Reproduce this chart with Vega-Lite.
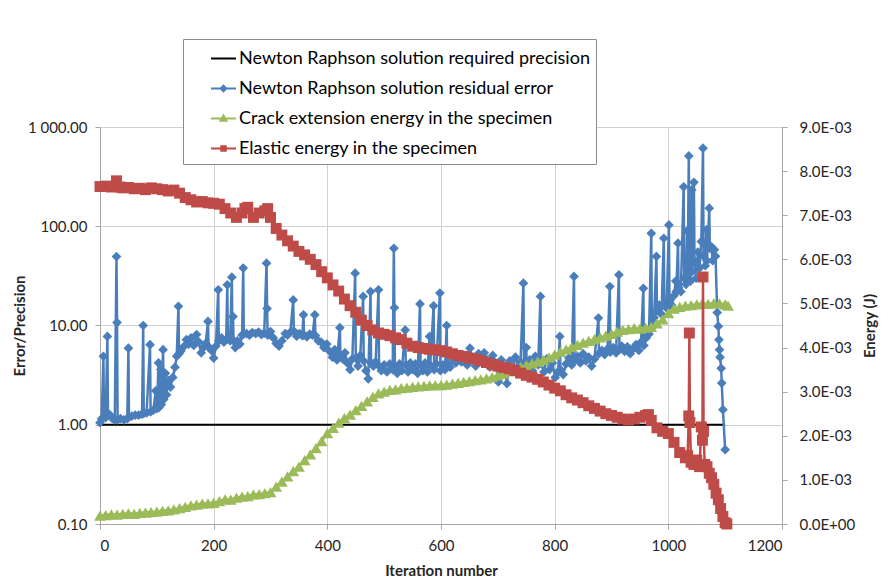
{
  "$schema": "https://vega.github.io/schema/vega-lite/v6.json",
  "width": 682,
  "height": 397,
  "autosize": {"type": "none"},
  "padding": {"left": 100, "top": 127, "right": 111, "bottom": 63},
  "background": "white",
  "datasets": {
    "precision": [{"it": 0, "v": 1}, {"it": 1100, "v": 1}],
    "residual": [
      {"it":0,"v":1.05},{"it":3,"v":1.15},{"it":6,"v":4.9},{"it":7,"v":1.2},{"it":10,"v":1.18},{"it":13,"v":7.75},{"it":14,"v":1.3},{"it":18,"v":1.25},{"it":22,"v":1.15},{"it":26,"v":1.12},{"it":29,"v":49.5},{"it":30,"v":10.7},{"it":31,"v":1.12},{"it":36,"v":1.15},{"it":42,"v":1.12},{"it":48,"v":1.15},{"it":50,"v":5.9},{"it":51,"v":1.2},{"it":56,"v":1.22},{"it":62,"v":1.25},{"it":68,"v":1.25},{"it":74,"v":1.28},{"it":76,"v":10.0},{"it":77,"v":1.3},{"it":82,"v":1.32},{"it":88,"v":6.4},{"it":89,"v":1.35},{"it":94,"v":1.4},{"it":98,"v":2.2},{"it":100,"v":1.45},{"it":103,"v":4.2},{"it":104,"v":1.5},{"it":107,"v":3.6},{"it":108,"v":1.6},{"it":111,"v":5.7},{"it":112,"v":1.8},{"it":115,"v":3.3},{"it":117,"v":2.0},{"it":120,"v":2.8},{"it":124,"v":2.4},{"it":128,"v":3.0},{"it":132,"v":3.8},{"it":135,"v":4.9},{"it":138,"v":15.6},{"it":139,"v":5.2},{"it":142,"v":5.5},{"it":147,"v":6.1},{"it":152,"v":7.2},{"it":156,"v":6.5},{"it":160,"v":7.5},{"it":165,"v":6.3},{"it":170,"v":8.1},{"it":174,"v":6.8},{"it":178,"v":5.3},{"it":182,"v":6.0},{"it":186,"v":6.6},{"it":190,"v":11.0},{"it":191,"v":6.1},{"it":196,"v":5.6},{"it":200,"v":4.7},{"it":204,"v":6.2},{"it":208,"v":22.9},{"it":209,"v":7.0},{"it":214,"v":7.5},{"it":218,"v":6.8},{"it":222,"v":7.2},{"it":224,"v":25.7},{"it":225,"v":7.4},{"it":229,"v":7.0},{"it":232,"v":30.7},{"it":233,"v":7.2},{"it":234,"v":12.3},{"it":235,"v":7.0},{"it":238,"v":6.0},{"it":242,"v":7.0},{"it":246,"v":6.5},{"it":250,"v":8.0},{"it":252,"v":37.9},{"it":253,"v":8.2},{"it":258,"v":8.3},{"it":263,"v":8.0},{"it":268,"v":8.5},{"it":274,"v":8.3},{"it":279,"v":8.6},{"it":284,"v":8.1},{"it":289,"v":8.4},{"it":293,"v":42.5},{"it":294,"v":14.8},{"it":295,"v":8.0},{"it":300,"v":8.7},{"it":305,"v":7.5},{"it":310,"v":6.6},{"it":315,"v":6.2},{"it":320,"v":7.0},{"it":326,"v":8.3},{"it":330,"v":8.0},{"it":335,"v":8.6},{"it":340,"v":18.1},{"it":341,"v":8.8},{"it":346,"v":7.8},{"it":351,"v":8.3},{"it":356,"v":7.9},{"it":358,"v":12.8},{"it":359,"v":8.0},{"it":364,"v":7.7},{"it":369,"v":8.2},{"it":374,"v":8.0},{"it":378,"v":12.8},{"it":379,"v":7.9},{"it":384,"v":7.0},{"it":389,"v":6.8},{"it":394,"v":6.0},{"it":399,"v":6.5},{"it":404,"v":5.5},{"it":409,"v":4.8},{"it":413,"v":5.7},{"it":417,"v":4.5},{"it":422,"v":9.5},{"it":423,"v":5.0},{"it":427,"v":4.6},{"it":431,"v":5.3},{"it":435,"v":4.2},{"it":440,"v":3.6},{"it":444,"v":4.6},{"it":449,"v":33.7},{"it":450,"v":4.7},{"it":454,"v":3.9},{"it":458,"v":5.0},{"it":463,"v":19.6},{"it":464,"v":4.4},{"it":468,"v":3.5},{"it":472,"v":2.9},{"it":476,"v":22.0},{"it":477,"v":4.2},{"it":481,"v":3.9},{"it":485,"v":4.3},{"it":490,"v":22.9},{"it":491,"v":3.9},{"it":495,"v":3.5},{"it":500,"v":4.0},{"it":505,"v":3.4},{"it":510,"v":4.1},{"it":515,"v":3.6},{"it":517,"v":60},{"it":518,"v":15.1},{"it":519,"v":3.7},{"it":523,"v":3.3},{"it":527,"v":4.1},{"it":531,"v":3.5},{"it":537,"v":9.0},{"it":538,"v":4.0},{"it":542,"v":3.4},{"it":546,"v":4.2},{"it":550,"v":3.6},{"it":555,"v":4.1},{"it":559,"v":3.3},{"it":563,"v":16.5},{"it":564,"v":4.0},{"it":568,"v":3.5},{"it":572,"v":4.2},{"it":576,"v":3.4},{"it":580,"v":7.75},{"it":581,"v":4.0},{"it":587,"v":15.8},{"it":588,"v":3.6},{"it":592,"v":4.1},{"it":598,"v":21.2},{"it":599,"v":3.5},{"it":603,"v":4.0},{"it":607,"v":3.6},{"it":610,"v":10.0},{"it":611,"v":4.2},{"it":616,"v":3.8},{"it":621,"v":4.6},{"it":626,"v":4.2},{"it":631,"v":5.0},{"it":636,"v":4.3},{"it":641,"v":4.8},{"it":646,"v":4.0},{"it":651,"v":5.9},{"it":656,"v":4.5},{"it":661,"v":3.9},{"it":666,"v":5.2},{"it":671,"v":4.6},{"it":676,"v":5.3},{"it":681,"v":4.5},{"it":686,"v":3.8},{"it":691,"v":5.0},{"it":696,"v":4.2},{"it":701,"v":2.7},{"it":706,"v":4.5},{"it":711,"v":3.9},{"it":716,"v":2.6},{"it":721,"v":4.4},{"it":726,"v":3.6},{"it":731,"v":4.8},{"it":736,"v":3.9},{"it":740,"v":4.3},{"it":745,"v":26.7},{"it":746,"v":4.0},{"it":750,"v":6.0},{"it":751,"v":3.8},{"it":756,"v":4.5},{"it":761,"v":3.5},{"it":766,"v":4.9},{"it":771,"v":4.0},{"it":775,"v":19.6},{"it":776,"v":4.2},{"it":781,"v":3.4},{"it":786,"v":4.6},{"it":791,"v":3.6},{"it":796,"v":4.2},{"it":801,"v":3.0},{"it":806,"v":3.4},{"it":809,"v":7.75},{"it":810,"v":3.6},{"it":815,"v":3.2},{"it":820,"v":4.1},{"it":825,"v":4.7},{"it":830,"v":4.0},{"it":834,"v":31.2},{"it":835,"v":4.5},{"it":840,"v":4.9},{"it":845,"v":4.2},{"it":850,"v":5.2},{"it":855,"v":4.4},{"it":860,"v":4.8},{"it":865,"v":3.9},{"it":870,"v":4.6},{"it":877,"v":11.9},{"it":878,"v":5.2},{"it":883,"v":5.6},{"it":888,"v":5.1},{"it":893,"v":5.8},{"it":897,"v":24.7},{"it":898,"v":5.4},{"it":903,"v":6.0},{"it":908,"v":5.3},{"it":913,"v":32.4},{"it":914,"v":5.7},{"it":918,"v":6.2},{"it":923,"v":5.5},{"it":928,"v":6.1},{"it":933,"v":5.2},{"it":938,"v":5.8},{"it":943,"v":6.4},{"it":948,"v":5.6},{"it":952,"v":6.8},{"it":956,"v":23.7},{"it":957,"v":6.3},{"it":961,"v":7.5},{"it":966,"v":8.2},{"it":970,"v":85},{"it":971,"v":9.5},{"it":975,"v":12},{"it":979,"v":49.6},{"it":980,"v":14},{"it":984,"v":16},{"it":988,"v":13},{"it":992,"v":75.7},{"it":993,"v":17},{"it":997,"v":15},{"it":1001,"v":103},{"it":1002,"v":18},{"it":1006,"v":16},{"it":1010,"v":20},{"it":1013,"v":28},{"it":1014,"v":22},{"it":1017,"v":67.5},{"it":1018,"v":24},{"it":1022,"v":22},{"it":1027,"v":250},{"it":1028,"v":30},{"it":1031,"v":26},{"it":1033,"v":90},{"it":1034,"v":32},{"it":1036,"v":511},{"it":1037,"v":40},{"it":1039,"v":28},{"it":1041,"v":232},{"it":1042,"v":35},{"it":1045,"v":277},{"it":1046,"v":45},{"it":1049,"v":30},{"it":1052,"v":55},{"it":1055,"v":38},{"it":1058,"v":70},{"it":1061,"v":612},{"it":1062,"v":50},{"it":1065,"v":40},{"it":1067,"v":92},{"it":1068,"v":45},{"it":1072,"v":152},{"it":1073,"v":60},{"it":1076,"v":62},{"it":1078,"v":45},{"it":1081,"v":58},{"it":1083,"v":50},{"it":1086,"v":13.5},{"it":1088,"v":9.8},{"it":1089,"v":7.2},{"it":1090,"v":5.7},{"it":1091,"v":4.8},{"it":1093,"v":3.7},{"it":1094,"v":2.63},{"it":1096,"v":1.42},{"it":1100,"v":0.56}
    ],
    "crack": [
      {"it":0,"e":0.00019},{"it":10,"e":0.0002},{"it":20,"e":0.00022},{"it":30,"e":0.00021},{"it":40,"e":0.00023},{"it":50,"e":0.00024},{"it":60,"e":0.00023},{"it":70,"e":0.00025},{"it":80,"e":0.00026},{"it":90,"e":0.00027},{"it":100,"e":0.00028},{"it":110,"e":0.0003},{"it":120,"e":0.00031},{"it":130,"e":0.00033},{"it":140,"e":0.00036},{"it":150,"e":0.00039},{"it":160,"e":0.00042},{"it":170,"e":0.00044},{"it":180,"e":0.00046},{"it":190,"e":0.00047},{"it":200,"e":0.00048},{"it":210,"e":0.00052},{"it":220,"e":0.00056},{"it":230,"e":0.00055},{"it":240,"e":0.0006},{"it":250,"e":0.00062},{"it":260,"e":0.00063},{"it":270,"e":0.00067},{"it":280,"e":0.00068},{"it":290,"e":0.0007},{"it":300,"e":0.00072},{"it":310,"e":0.00085},{"it":320,"e":0.00096},{"it":330,"e":0.00108},{"it":340,"e":0.0012},{"it":350,"e":0.0013},{"it":360,"e":0.00145},{"it":370,"e":0.00158},{"it":380,"e":0.00172},{"it":390,"e":0.00188},{"it":400,"e":0.00206},{"it":410,"e":0.00218},{"it":420,"e":0.0023},{"it":430,"e":0.0024},{"it":440,"e":0.00248},{"it":450,"e":0.00258},{"it":460,"e":0.00268},{"it":470,"e":0.00278},{"it":480,"e":0.00288},{"it":490,"e":0.00296},{"it":500,"e":0.003},{"it":510,"e":0.00304},{"it":520,"e":0.00305},{"it":530,"e":0.00308},{"it":540,"e":0.00309},{"it":550,"e":0.00311},{"it":560,"e":0.00312},{"it":570,"e":0.00313},{"it":580,"e":0.00314},{"it":590,"e":0.00315},{"it":600,"e":0.00315},{"it":610,"e":0.00316},{"it":620,"e":0.00318},{"it":630,"e":0.0032},{"it":640,"e":0.00322},{"it":650,"e":0.00324},{"it":660,"e":0.00326},{"it":670,"e":0.00328},{"it":680,"e":0.0033},{"it":690,"e":0.00333},{"it":700,"e":0.00337},{"it":710,"e":0.00341},{"it":720,"e":0.00346},{"it":730,"e":0.00351},{"it":740,"e":0.00356},{"it":750,"e":0.0036},{"it":760,"e":0.00364},{"it":770,"e":0.00368},{"it":780,"e":0.00372},{"it":790,"e":0.00378},{"it":800,"e":0.00384},{"it":810,"e":0.0039},{"it":820,"e":0.00396},{"it":830,"e":0.00401},{"it":840,"e":0.00406},{"it":850,"e":0.00411},{"it":860,"e":0.00415},{"it":870,"e":0.00419},{"it":880,"e":0.00423},{"it":890,"e":0.00427},{"it":900,"e":0.00431},{"it":910,"e":0.00436},{"it":920,"e":0.0044},{"it":930,"e":0.00442},{"it":940,"e":0.00444},{"it":950,"e":0.00443},{"it":960,"e":0.00445},{"it":970,"e":0.00447},{"it":980,"e":0.00455},{"it":990,"e":0.00464},{"it":1000,"e":0.00478},{"it":1010,"e":0.00488},{"it":1020,"e":0.00492},{"it":1030,"e":0.00495},{"it":1040,"e":0.00496},{"it":1050,"e":0.00498},{"it":1060,"e":0.005},{"it":1070,"e":0.00499},{"it":1080,"e":0.00501},{"it":1090,"e":0.005},{"it":1100,"e":0.00498},{"it":1105,"e":0.00495}
    ],
    "elastic": [
      {"it":0,"e":0.00765},{"it":10,"e":0.00766},{"it":20,"e":0.00764},{"it":29,"e":0.00778},{"it":35,"e":0.00764},{"it":40,"e":0.00762},{"it":50,"e":0.00763},{"it":60,"e":0.0076},{"it":70,"e":0.00761},{"it":80,"e":0.00758},{"it":90,"e":0.00762},{"it":100,"e":0.0076},{"it":110,"e":0.00758},{"it":120,"e":0.00755},{"it":130,"e":0.00757},{"it":140,"e":0.0075},{"it":150,"e":0.0074},{"it":160,"e":0.00735},{"it":170,"e":0.0073},{"it":180,"e":0.00731},{"it":190,"e":0.00728},{"it":200,"e":0.00727},{"it":210,"e":0.00725},{"it":220,"e":0.00715},{"it":230,"e":0.00705},{"it":240,"e":0.00695},{"it":250,"e":0.00705},{"it":255,"e":0.00715},{"it":260,"e":0.00718},{"it":270,"e":0.00695},{"it":280,"e":0.00705},{"it":290,"e":0.0071},{"it":295,"e":0.00715},{"it":300,"e":0.00695},{"it":310,"e":0.0067},{"it":320,"e":0.00655},{"it":330,"e":0.00642},{"it":340,"e":0.0063},{"it":350,"e":0.00618},{"it":360,"e":0.0061},{"it":370,"e":0.006},{"it":380,"e":0.00588},{"it":390,"e":0.00572},{"it":400,"e":0.00558},{"it":410,"e":0.00542},{"it":420,"e":0.00528},{"it":430,"e":0.0051},{"it":440,"e":0.00495},{"it":450,"e":0.0048},{"it":460,"e":0.00462},{"it":470,"e":0.0045},{"it":480,"e":0.0044},{"it":490,"e":0.00433},{"it":500,"e":0.0043},{"it":510,"e":0.00427},{"it":520,"e":0.00422},{"it":530,"e":0.00418},{"it":540,"e":0.0041},{"it":550,"e":0.00403},{"it":560,"e":0.004},{"it":570,"e":0.00398},{"it":580,"e":0.00396},{"it":590,"e":0.00395},{"it":600,"e":0.00393},{"it":610,"e":0.0039},{"it":620,"e":0.00386},{"it":630,"e":0.00382},{"it":640,"e":0.0038},{"it":650,"e":0.00376},{"it":660,"e":0.00374},{"it":670,"e":0.0037},{"it":680,"e":0.00366},{"it":690,"e":0.00362},{"it":700,"e":0.00358},{"it":710,"e":0.00355},{"it":720,"e":0.00352},{"it":730,"e":0.00348},{"it":740,"e":0.00342},{"it":750,"e":0.00337},{"it":760,"e":0.00333},{"it":770,"e":0.00328},{"it":780,"e":0.00322},{"it":790,"e":0.00315},{"it":800,"e":0.00308},{"it":810,"e":0.00302},{"it":820,"e":0.00293},{"it":830,"e":0.00286},{"it":840,"e":0.00281},{"it":850,"e":0.00275},{"it":860,"e":0.00268},{"it":870,"e":0.00262},{"it":880,"e":0.00256},{"it":890,"e":0.0025},{"it":900,"e":0.00246},{"it":910,"e":0.00242},{"it":920,"e":0.00238},{"it":930,"e":0.00236},{"it":940,"e":0.00238},{"it":950,"e":0.00242},{"it":960,"e":0.00246},{"it":965,"e":0.00248},{"it":970,"e":0.00235},{"it":980,"e":0.00218},{"it":990,"e":0.0021},{"it":1000,"e":0.00205},{"it":1010,"e":0.00185},{"it":1020,"e":0.00162},{"it":1030,"e":0.0015},{"it":1034,"e":0.00155},{"it":1036,"e":0.00245},{"it":1037,"e":0.00433},{"it":1038,"e":0.0023},{"it":1040,"e":0.0014},{"it":1045,"e":0.00135},{"it":1050,"e":0.00145},{"it":1055,"e":0.0013},{"it":1058,"e":0.0022},{"it":1060,"e":0.0019},{"it":1061,"e":0.0056},{"it":1062,"e":0.0021},{"it":1064,"e":0.00135},{"it":1068,"e":0.0013},{"it":1072,"e":0.00115},{"it":1076,"e":0.00105},{"it":1080,"e":0.0009},{"it":1084,"e":0.0007},{"it":1088,"e":0.00055},{"it":1092,"e":0.00035},{"it":1096,"e":0.00017},{"it":1100,"e":0.00003},{"it":1103,"e":0.0}
    ]
  },
  "encoding": {
    "x": {
      "field": "it",
      "type": "quantitative",
      "scale": {"domain": [0, 1200], "nice": false, "zero": false},
      "axis": {
        "title": "Iteration number",
        "values": [0, 200, 400, 600, 800, 1000, 1200],
        "format": "d",
        "grid": true,
        "labelPadding": 9,
        "titlePadding": 10
      }
    }
  },
  "layer": [
    {
      "encoding": {
        "y": {
          "field": "v",
          "type": "quantitative",
          "scale": {"type": "log", "domain": [0.1, 1000], "nice": false},
          "axis": {
            "title": "Error/Precision",
            "orient": "left",
            "values": [0.1, 1, 10, 100, 1000],
            "labelExpr": "datum.value >= 1000 ? '1 000.00' : format(datum.value, '.2f')",
            "grid": true,
            "labelPadding": 8,
            "titlePadding": 0
          }
        }
      },
      "layer": [
        {
          "data": {"name": "precision"},
          "mark": {"type": "line", "strokeWidth": 2},
          "encoding": {
            "color": {
              "datum": "Newton Raphson solution required precision",
              "type": "nominal",
              "scale": {
                "domain": ["Newton Raphson solution required precision", "Newton Raphson solution residual error", "Crack extension energy in the specimen", "Elastic energy in the specimen"],
                "range": ["#000000", "#4a7ebb", "#9bbb59", "#be4b48"]
              },
              "legend": {
                "title": null,
                "orient": "none",
                "legendX": 83,
                "legendY": -88,
                "direction": "vertical",
                "fillColor": "white",
                "strokeColor": "#8c8c8c",
                "padding": 6,
                "symbolOffset": 21,
                "symbolSize": 625,
                "symbolStrokeWidth": 2,
                "rowPadding": 7,
                "labelOffset": 2,
                "labelFontSize": 18,
                "labelColor": "#000000",
                "labelLimit": 500,
                "encode": {
                  "symbols": {
                    "update": {
                      "shape": {"signal": "datum.value === 'Newton Raphson solution required precision' ? 'M-1,0H1' : datum.value === 'Newton Raphson solution residual error' ? 'M-1,0H1M0,-0.22L0.22,0L0,0.22L-0.22,0Z' : datum.value === 'Crack extension energy in the specimen' ? 'M-1,0H1M0,-0.24L0.24,0.18L-0.24,0.18Z' : 'M-1,0H1M-0.18,-0.18H0.18V0.18H-0.18Z'"},
                      "stroke": {"scale": "color", "field": "value"},
                      "fill": {"scale": "color", "field": "value"},
                      "strokeWidth": {"value": 2},
                      "opacity": {"value": 1}
                    }
                  }
                }
              }
            }
          }
        },
        {
          "data": {"name": "residual"},
          "mark": {"type": "line", "strokeWidth": 2.5},
          "encoding": {
            "color": {"datum": "Newton Raphson solution residual error", "type": "nominal"}
          }
        },
        {
          "data": {"name": "residual"},
          "mark": {"type": "point", "shape": "diamond", "size": 95, "filled": true, "opacity": 1},
          "encoding": {
            "color": {"datum": "Newton Raphson solution residual error", "type": "nominal"}
          }
        }
      ]
    },
    {
      "encoding": {
        "y": {
          "field": "e",
          "type": "quantitative",
          "scale": {"domain": [0, 0.009], "nice": false},
          "axis": {
            "title": "Energy (J)",
            "orient": "right",
            "values": [0, 0.001, 0.002, 0.003, 0.004, 0.005, 0.006, 0.007, 0.008, 0.009],
            "labelExpr": "datum.value === 0 ? '0.0E+00' : format(datum.value * 1000, '.1f') + 'E-03'",
            "grid": false,
            "labelPadding": 12,
            "titleAngle": 270,
            "titleBaseline": "top",
            "titlePadding": 8
          }
        }
      },
      "layer": [
        {
          "data": {"name": "crack"},
          "mark": {"type": "line", "strokeWidth": 2.5},
          "encoding": {"color": {"datum": "Crack extension energy in the specimen", "type": "nominal"}}
        },
        {
          "data": {"name": "crack"},
          "mark": {"type": "point", "shape": "triangle-up", "size": 140, "filled": true, "opacity": 1},
          "encoding": {"color": {"datum": "Crack extension energy in the specimen", "type": "nominal"}}
        },
        {
          "data": {"name": "elastic"},
          "mark": {"type": "line", "strokeWidth": 2.5},
          "encoding": {"color": {"datum": "Elastic energy in the specimen", "type": "nominal"}}
        },
        {
          "data": {"name": "elastic"},
          "mark": {"type": "point", "shape": "square", "size": 120, "filled": true, "opacity": 1},
          "encoding": {"color": {"datum": "Elastic energy in the specimen", "type": "nominal"}}
        }
      ]
    }
  ],
  "resolve": {"scale": {"y": "independent"}},
  "config": {
    "font": "Lato",
    "view": {"stroke": null},
    "axis": {
      "labelFontSize": 15,
      "labelColor": "#262626",
      "titleFontSize": 15,
      "titleFontWeight": "bold",
      "titleColor": "#262626",
      "domainColor": "#a6a6a6",
      "domainWidth": 1,
      "tickColor": "#a6a6a6",
      "tickSize": 5,
      "gridColor": "#d0d0d0",
      "gridWidth": 1
    }
  }
}
